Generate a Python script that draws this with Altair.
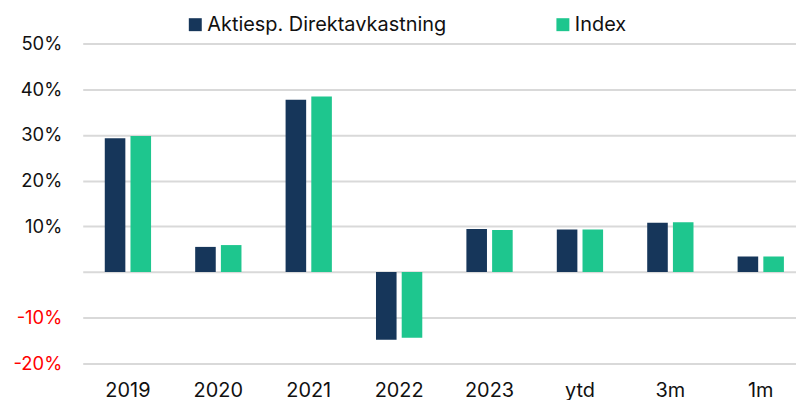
import altair as alt
import pandas as pd

categories = ["2019", "2020", "2021", "2022", "2023", "ytd", "3m", "1m"]
series_names = ["Aktiesp. Direktavkastning", "Index"]
aktie = [29.3, 5.5, 37.7, -14.8, 9.4, 9.3, 10.8, 3.4]
index = [29.8, 5.9, 38.4, -14.4, 9.2, 9.3, 10.9, 3.4]
colors = ["#16365A", "#1EC68E"]

rows = []
for c, a, i in zip(categories, aktie, index):
    rows.append({"cat": c, "series": series_names[0], "value": a})
    rows.append({"cat": c, "series": series_names[1], "value": i})
df = pd.DataFrame(rows)

FONT = "Inter"

chart = alt.Chart(df).mark_bar().encode(
    x=alt.X("cat:N", sort=categories, title=None,
            scale=alt.Scale(paddingInner=0.488, paddingOuter=0.244, round=False),
            axis=alt.Axis(labelAngle=0, ticks=False, domain=False, grid=False,
                          labelFontSize=20, labelColor="#111111", labelPadding=17,
                          labelFont=FONT)),
    xOffset=alt.XOffset("series:N", sort=series_names,
                        scale=alt.Scale(paddingInner=0.2, paddingOuter=0, round=False)),
    y=alt.Y("value:Q", title=None,
            scale=alt.Scale(domain=[-20, 50], nice=False, zero=False),
            axis=alt.Axis(values=[-20, -10, 0, 10, 20, 30, 40, 50], ticks=False, domain=False,
                          grid=True, gridColor="#d9d9d9", gridWidth=2,
                          labelExpr="datum.value == 0 ? '' : datum.value + '%'",
                          labelColor=alt.condition("datum.value < 0", alt.value("#ff0000"), alt.value("#111111")),
                          labelFontSize=18.5, labelPadding=21, labelFont=FONT)),
    color=alt.Color("series:N", sort=series_names,
                    scale=alt.Scale(domain=series_names, range=colors),
                    legend=alt.Legend(title=None, orient="none", direction="horizontal",
                                      legendX=103, legendY=-29, symbolType="square",
                                      symbolSize=169, symbolStrokeWidth=0,
                                      labelFontSize=20, labelFont=FONT, labelColor="#111111",
                                      labelOffset=2,
                                      columnPadding=106, labelLimit=400, symbolOffset=0)),
).properties(
    width=726, height=321,
    autosize=alt.AutoSizeParams(type="none"),
    padding={"left": 75, "top": 35, "right": -10, "bottom": 36},
).configure_view(stroke=None)

chart.save("out.html", embed_options={"renderer": "svg", "actions": False})
